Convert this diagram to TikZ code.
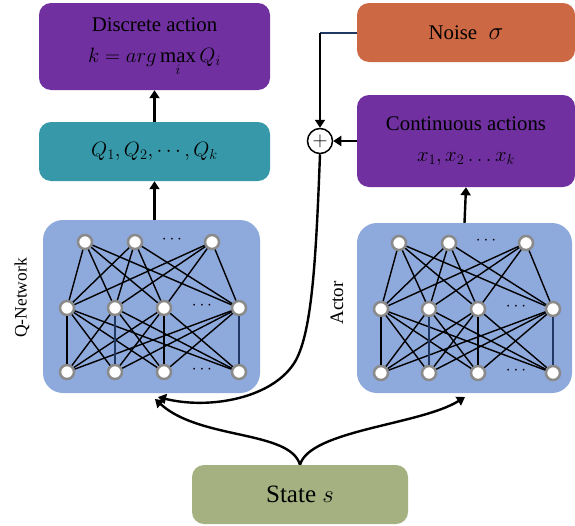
\documentclass[tikz,border=0pt]{standalone}
\usepackage{fontspec}
\setmainfont{Liberation Serif}
\usetikzlibrary{arrows.meta, positioning}

\definecolor{actpurple}{RGB}{112,48,160}
\definecolor{qteal}{RGB}{54,152,168}
\definecolor{noiseorange}{RGB}{204,104,68}
\definecolor{netblue}{RGB}{142,169,219}
\definecolor{stategreen}{RGB}{165,177,128}
\definecolor{ringgray}{RGB}{138,138,138}
\definecolor{wirenavy}{RGB}{31,56,100}

\tikzset{
  box/.style={rounded corners=12pt, align=center, inner sep=0pt,
    font=\fontsize{20.8}{31}\selectfont},
  panel/.style={fill=netblue, rounded corners=20pt, inner sep=0pt},
  neuron/.style={circle, draw=ringgray, fill=white, line width=2.5pt,
    minimum size=14pt, inner sep=0pt},
  netdots/.style={font=\fontsize{16}{16}\selectfont, inner sep=0pt},
  wire/.style={line width=1.4pt},
  flow/.style={line width=2.4pt, -{Triangle[length=8pt,width=10pt]}},
  sidelabel/.style={rotate=90, inner sep=0pt},
}

\begin{document}
\begin{tikzpicture}[x=1pt, y=-1pt]
  \useasboundingbox (0,0) rectangle (575,525);

  % output boxes
  \node[box, fill=actpurple, minimum width=231pt, minimum height=87pt] (disc) at (154.5,46.5)
    {Discrete action\\ $k=arg\max\limits_{i}Q_{i}$};
  \node[box, fill=qteal, minimum width=231pt, minimum height=59pt] (qvals) at (154.5,151.5)
    {$Q_{1},Q_{2},\cdots,Q_{k}$};
  \node[box, fill=noiseorange, minimum width=218pt, minimum height=59pt] (noise) at (466,32.5)
    {Noise\;\;{\fontsize{27}{27}\selectfont$\sigma$}};
  \node[box, fill=actpurple, minimum width=218pt, minimum height=92pt] (cont) at (466,141)
    {Continuous actions\\ $x_{1},x_{2}\ldots x_{k}$};
  \node[box, fill=stategreen, minimum width=216pt, minimum height=59pt,
    font=\fontsize{25}{30}\selectfont] (state) at (300,494.5) {State $s$};

  % network panels
  \node[panel, minimum width=217pt, minimum height=173pt] (qnet) at (151.5,306.5) {};
  \node[panel, minimum width=215pt, minimum height=170pt] (actor) at (464.5,308) {};
  \node[sidelabel, font=\fontsize{17.5}{17.5}\selectfont] (qlabel) at (22,298) {Q-Network};
  \node[sidelabel, font=\fontsize{19}{19}\selectfont] (alabel) at (337,303) {Actor};

  % two small nets, the actor one shifted right
  \foreach \nn/\dx/\dy in {q/0/0, a/314/1} {
    \begin{scope}[shift={(\dx,\dy)}]
      \foreach \i/\x in {1/85, 2/135, 3/212}
        \node[neuron] (\nn t\i) at (\x,242) {};
      \foreach \i/\x in {1/67, 2/115, 3/164, 4/239} {
        \node[neuron] (\nn m\i) at (\x,308) {};
        \node[neuron] (\nn b\i) at (\x,372) {};
      }
      \node[netdots] (\nn dt) at (172,240) {$\cdots$};
      \node[netdots] (\nn dm) at (202,306) {$\cdots$};
      \node[netdots] (\nn db) at (202,370) {$\cdots$};
      \foreach \i in {1,2,3}
        \foreach \j in {1,...,4}
          \draw[wire] (\nn t\i) -- (\nn m\j);
      \foreach \i in {1,...,4}
        \foreach \j in {1,...,4}
          \draw[wire] (\nn m\i) -- (\nn b\j);
      \draw[wire, wirenavy] (\nn m2) -- (\nn b2);
      \draw[wire, wirenavy] (\nn m4) -- (\nn b4);
    \end{scope}
  }

  % adding the noise
  \node[circle, draw, fill=white, line width=1.5pt, minimum size=25pt, inner sep=0pt,
    font=\fontsize{20}{20}\selectfont] (plus) at (320,141) {$+$};
  \coordinate (nbend) at (plus.north |- noise.west);
  \coordinate (qin) at (158,397);
  \coordinate (sleft) at (155,399);
  \coordinate (sright) at (465,397);

  \draw[line width=2pt, wirenavy] (noise.west) -- (nbend);
  \draw[flow] (nbend) -- (plus.north);
  \draw[flow] (cont.west) -- (plus.east);
  \draw[flow] (qvals.north) -- (disc.south);
  \draw[flow] (qvals.south |- qnet.north) -- (qvals.south);
  \draw[flow] (actor.north) -- (cont.south);
  \draw[flow] (plus.south) .. controls (316,260) and (312,330) .. (296,360)
    .. controls (275,398) and (210,410) .. (qin);
  \draw[flow] (state.north) .. controls (290,430) and (200,440) .. (sleft);
  \draw[flow] (state.north) .. controls (310,430) and (420,425) .. (sright);
\end{tikzpicture}
\end{document}
